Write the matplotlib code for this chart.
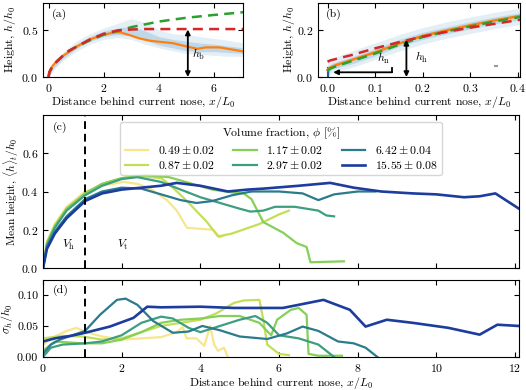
import matplotlib
matplotlib.use("Agg")
import matplotlib.pyplot as plt

plt.rcParams.update({
    "font.family": "serif",
    "font.serif": ["cmr10"],
    "mathtext.fontset": "cm",
    "axes.formatter.use_mathtext": True,
    "font.size": 8.5,
    "axes.unicode_minus": False,
    "xtick.direction": "in",
    "ytick.direction": "in",
    "xtick.top": True,
    "ytick.right": True,
})

# ---------------- panel (a) data ----------------
a_cloud_x = [0, 0.2, 0.5, 1.0, 1.5, 2.0, 2.5, 3.0, 3.5, 4.0, 4.5, 5.0, 5.5, 6.0, 6.5, 7.1]
a_cloud_hi = [0.03, 0.16, 0.26, 0.38, 0.46, 0.52, 0.57, 0.62, 0.58, 0.50, 0.46, 0.45, 0.43, 0.41, 0.39, 0.36]
a_cloud_lo = [0.0, 0.08, 0.17, 0.27, 0.35, 0.40, 0.42, 0.40, 0.35, 0.31, 0.28, 0.25, 0.24, 0.23, 0.22, 0.22]
a_core_hi = [0.02, 0.14, 0.24, 0.35, 0.43, 0.49, 0.52, 0.54, 0.49, 0.43, 0.40, 0.38, 0.36, 0.35, 0.33, 0.31]
a_core_lo = [0.0, 0.10, 0.19, 0.30, 0.38, 0.43, 0.45, 0.44, 0.39, 0.34, 0.31, 0.28, 0.27, 0.27, 0.26, 0.25]
a_mean_x = [0, 0.05, 0.15, 0.3, 0.5, 0.8, 1.0, 1.5, 2.0, 2.4, 2.6, 3.0, 3.3, 3.7, 4.0, 4.5, 5.0, 5.4, 5.7, 6.2, 6.7, 7.1]
a_mean_y = [0, 0.07, 0.12, 0.17, 0.22, 0.28, 0.32, 0.40, 0.45, 0.475, 0.475, 0.44, 0.41, 0.385, 0.375, 0.36, 0.325, 0.30, 0.315, 0.315, 0.29, 0.27]
a_model_x = [0, 0.03, 0.1, 0.25, 0.5, 0.75, 1.0, 1.5, 2.0, 2.5, 3.0, 3.5, 4.0, 5.0, 6.0, 7.1]
a_green_y = [0, 0.05, 0.09, 0.15, 0.22, 0.28, 0.32, 0.39, 0.45, 0.49, 0.53, 0.56, 0.59, 0.63, 0.66, 0.69]
a_red_y = [0, 0.05, 0.09, 0.15, 0.22, 0.28, 0.32, 0.40, 0.46, 0.495, 0.505, 0.51, 0.51, 0.51, 0.51, 0.51]

# ---------------- panel (b) data ----------------
b_cloud_x = [0, 0.01, 0.05, 0.1, 0.15, 0.2, 0.25, 0.3, 0.35, 0.41]
b_cloud_hi = [0.06, 0.08, 0.11, 0.145, 0.18, 0.21, 0.235, 0.255, 0.275, 0.295]
b_cloud_lo = [0.0, 0.02, 0.04, 0.075, 0.11, 0.14, 0.165, 0.185, 0.205, 0.225]
b_core_hi = [0.04, 0.06, 0.085, 0.12, 0.16, 0.19, 0.213, 0.235, 0.255, 0.275]
b_core_lo = [0.01, 0.035, 0.055, 0.09, 0.13, 0.16, 0.183, 0.205, 0.225, 0.245]
b_x = [0, 0.005, 0.02, 0.05, 0.1, 0.15, 0.2, 0.25, 0.3, 0.35, 0.41]
b_orange = [0.03, 0.04, 0.052, 0.072, 0.105, 0.142, 0.175, 0.198, 0.22, 0.24, 0.262]
b_green = [0.025, 0.035, 0.047, 0.067, 0.1, 0.137, 0.17, 0.194, 0.215, 0.236, 0.257]
b_red = [0.065, 0.07, 0.078, 0.093, 0.122, 0.148, 0.172, 0.192, 0.21, 0.226, 0.245]

# ---------------- panels (c), (d) data ----------------
labels = [r"$0.49 \pm 0.02$", r"$0.87 \pm 0.02$", r"$1.17 \pm 0.02$",
          r"$2.97 \pm 0.02$", r"$6.42 \pm 0.04$", r"$15.55 \pm 0.08$"]
colors = ["#f7e68b", "#c2df55", "#86cf58", "#3d9e80", "#2a7b8c", "#1c3c9e"]

c_x = [
    [0, 0.1, 0.3, 0.6, 1.07, 1.5, 2.04, 2.4, 2.73, 3.15, 3.4, 3.66, 4.0, 4.33, 4.5, 4.6],
    [0, 0.1, 0.3, 0.6, 1.07, 1.5, 2.0, 2.5, 3.0, 3.2, 3.66, 4.17, 4.45, 4.8, 5.5, 6.0, 6.25],
    [0, 0.1, 0.3, 0.6, 1.07, 1.5, 2.0, 2.6, 3.2, 3.8, 4.3, 4.8, 5.1, 5.3, 5.6, 6.1, 6.45, 6.7, 6.8, 7.65],
    [0, 0.1, 0.3, 0.6, 1.07, 1.5, 2.0, 2.4, 3.0, 3.5, 4.0, 4.5, 5.0, 5.27, 5.6, 5.9, 6.4, 7.0, 7.2, 7.4],
    [0, 0.1, 0.3, 0.6, 1.07, 1.5, 2.0, 2.5, 3.0, 3.5, 3.9, 4.3, 4.8, 5.3, 6.0, 6.6, 7.0, 7.4, 8.0, 8.45],
    [0, 0.1, 0.3, 0.6, 1.07, 1.5, 2.0, 2.5, 3.0, 3.4, 4.0, 4.7, 5.2, 5.6, 6.5, 7.3, 7.9, 8.6, 9.4, 10.0, 10.7, 11.1, 11.5, 11.8, 12.1],
]
c_y = [
    [0, 0.14, 0.23, 0.32, 0.40, 0.43, 0.45, 0.44, 0.415, 0.355, 0.30, 0.21, 0.205, 0.20, 0.16, 0.17],
    [0, 0.13, 0.22, 0.31, 0.39, 0.44, 0.47, 0.48, 0.47, 0.44, 0.35, 0.24, 0.165, 0.18, 0.23, 0.28, 0.30],
    [0, 0.13, 0.22, 0.31, 0.39, 0.44, 0.47, 0.485, 0.475, 0.44, 0.41, 0.395, 0.39, 0.36, 0.24, 0.185, 0.13, 0.11, 0.03, 0.035],
    [0, 0.12, 0.21, 0.30, 0.38, 0.43, 0.465, 0.475, 0.45, 0.41, 0.37, 0.34, 0.31, 0.295, 0.30, 0.32, 0.32, 0.30, 0.275, 0.27],
    [0, 0.11, 0.19, 0.27, 0.36, 0.40, 0.42, 0.415, 0.385, 0.355, 0.34, 0.35, 0.38, 0.40, 0.40, 0.39, 0.355, 0.385, 0.40, 0.40],
    [0, 0.10, 0.18, 0.26, 0.35, 0.39, 0.41, 0.42, 0.43, 0.445, 0.43, 0.40, 0.41, 0.415, 0.43, 0.445, 0.42, 0.40, 0.39, 0.385, 0.37, 0.375, 0.39, 0.35, 0.31],
]

d_x = [
    [0, 0.3, 0.6, 0.85, 1.1, 1.5, 2.0, 2.5, 3.0, 3.4, 3.55, 3.65, 3.9, 4.1, 4.25, 4.35, 4.45, 4.6, 4.7],
    [0, 0.5, 1.0, 1.5, 2.0, 2.5, 3.0, 3.5, 4.0, 4.4, 4.85, 5.1, 5.5, 5.6, 5.7, 6.0, 6.25],
    [0, 0.3, 1.0, 1.5, 2.0, 2.5, 3.0, 3.5, 4.0, 4.5, 5.0, 5.5, 5.8, 5.95, 6.3, 6.5, 6.7, 6.75, 7.0, 7.6],
    [0, 0.2, 0.5, 1.07, 1.5, 2.0, 2.5, 3.0, 3.3, 3.7, 4.0, 4.5, 5.0, 5.4, 5.7, 6.0, 6.5, 7.0, 7.4],
    [0, 0.2, 0.43, 1.07, 1.45, 1.88, 2.1, 2.4, 2.8, 3.3, 3.7, 4.05, 4.5, 5.0, 5.7, 6.2, 6.6, 7.0, 7.5, 7.9, 8.2, 8.5],
    [0, 0.3, 0.7, 1.07, 1.7, 2.3, 2.65, 3.0, 4.0, 4.85, 5.6, 6.1, 7.13, 7.8, 8.2, 8.74, 9.4, 10.3, 11.1, 11.55, 12.1],
]
d_y = [
    [0.02, 0.033, 0.042, 0.047, 0.04, 0.033, 0.028, 0.03, 0.032, 0.04, 0.048, 0.03, 0.03, 0.018, 0.05, 0.02, 0.01, 0.015, 0.0],
    [0.03, 0.034, 0.033, 0.028, 0.03, 0.04, 0.05, 0.055, 0.06, 0.07, 0.087, 0.091, 0.092, 0.06, 0.02, 0.005, 0.003],
    [0.01, 0.025, 0.022, 0.022, 0.028, 0.04, 0.055, 0.06, 0.062, 0.066, 0.066, 0.055, 0.035, 0.06, 0.076, 0.079, 0.068, 0.005, 0.002, 0.002],
    [0.0, 0.015, 0.02, 0.022, 0.025, 0.035, 0.055, 0.065, 0.062, 0.047, 0.04, 0.05, 0.06, 0.066, 0.055, 0.035, 0.03, 0.02, 0.0],
    [0.005, 0.02, 0.028, 0.042, 0.068, 0.092, 0.094, 0.084, 0.058, 0.039, 0.041, 0.05, 0.043, 0.033, 0.029, 0.038, 0.049, 0.042, 0.025, 0.022, 0.015, 0.0],
    [0.025, 0.03, 0.034, 0.039, 0.049, 0.063, 0.081, 0.08, 0.081, 0.079, 0.079, 0.079, 0.092, 0.076, 0.049, 0.06, 0.055, 0.047, 0.036, 0.052, 0.05],
]

# ---------------- figure ----------------
fig = plt.figure(figsize=(5.26, 3.90), dpi=100)
W, H = 526, 390
def rect(l, t, r, b):
    return [l / W, 1 - b / H, (r - l) / W, (b - t) / H]

ax_a = fig.add_axes(rect(43, 3, 243, 77))
ax_b = fig.add_axes(rect(318, 3, 520, 77))
ax_c = fig.add_axes(rect(43, 115, 519, 268))
ax_d = fig.add_axes(rect(43, 280, 519, 357))

cloud_col = "#1f77b4"
xlab = r"Distance behind current nose, $x/L_0$"
dash = (0, (4, 2.5))

# (a)
ax_a.fill_between(a_cloud_x, a_cloud_lo, a_cloud_hi, color=cloud_col, alpha=0.12, lw=0)
ax_a.fill_between(a_cloud_x, a_core_lo, a_core_hi, color=cloud_col, alpha=0.18, lw=0)
ax_a.plot(a_mean_x, a_mean_y, color="#ff7f0e", lw=1.6)
ax_a.plot(a_model_x, a_green_y, color="#2ca02c", lw=1.8, ls=dash)
ax_a.plot(a_model_x, a_red_y, color="#d62728", lw=1.8, ls=dash)
ax_a.annotate("", xy=(5.05, 0.0), xytext=(5.05, 0.505),
              arrowprops=dict(arrowstyle="<|-|>", color="k", lw=1.3, shrinkA=0, shrinkB=0,
                              mutation_scale=7))
ax_a.text(5.2, 0.2, r"$h_\mathrm{b}$")
ax_a.set_xlim(-0.2, 7.05)
ax_a.set_ylim(0, 0.787)
ax_a.set_xticks([0, 2, 4, 6])
ax_a.set_yticks([0.0, 0.5])
ax_a.set_ylabel(r"Height, $h/h_0$")
ax_a.yaxis.set_label_coords(-0.125, 0.5)
ax_a.set_xlabel(xlab)
ax_a.xaxis.set_label_coords(0.5, -0.235)
ax_a.text(0.045, 0.92, "(a)", transform=ax_a.transAxes, va="top")

# (b)
ax_b.fill_between(b_cloud_x, b_cloud_lo, b_cloud_hi, color=cloud_col, alpha=0.12, lw=0)
ax_b.fill_between(b_cloud_x, b_core_lo, b_core_hi, color=cloud_col, alpha=0.18, lw=0)
ax_b.plot([0, 0], [0, 0.04], color="#1f5fa0", lw=1.5)
ax_b.plot(b_x, b_orange, color="#ff7f0e", lw=1.8)
ax_b.plot(b_x, b_green, color="#2ca02c", lw=1.8, ls=dash)
ax_b.plot(b_x, b_red, color="#d62728", lw=1.8, ls=dash)
ax_b.annotate("", xy=(0.166, 0.0), xytext=(0.166, 0.158),
              arrowprops=dict(arrowstyle="<|-|>", color="k", lw=1.3, shrinkA=0, shrinkB=0,
                              mutation_scale=7))
ax_b.text(0.185, 0.07, r"$h_\mathrm{h}$")
ax_b.plot([0.135, 0.135], [0.02, 0.037], color="k", lw=1.3)
ax_b.annotate("", xy=(0.012, 0.02), xytext=(0.1357, 0.02),
              arrowprops=dict(arrowstyle="-|>", color="k", lw=1.3, shrinkA=0, shrinkB=0,
                              mutation_scale=7))
ax_b.text(0.105, 0.065, r"$h_\mathrm{n}$")
ax_b.plot([0.354], [0.046], marker="_", color="#999999", ms=3, mew=1.5)
ax_b.set_xlim(-0.02, 0.405)
ax_b.set_ylim(0, 0.315)
ax_b.set_xticks([0.0, 0.1, 0.2, 0.3, 0.4])
ax_b.set_yticks([0.0, 0.2])
ax_b.set_ylabel(r"Height, $h/h_0$")
ax_b.yaxis.set_label_coords(-0.105, 0.5)
ax_b.set_xlabel(xlab)
ax_b.xaxis.set_label_coords(0.5, -0.235)
ax_b.text(0.04, 0.92, "(b)", transform=ax_b.transAxes, va="top")

# (c)
for xs, ys, col, lab, in zip(c_x, c_y, colors, labels):
    lw = 1.9 if col == colors[-1] else 1.6
    ax_c.plot(xs, ys, color=col, lw=lw, label=lab)
ax_c.axvline(1.07, color="k", lw=1.4, ls=dash)
ax_c.text(0.64, 0.12, r"$V_\mathrm{h}$", ha="center", va="center")
ax_c.text(2.04, 0.12, r"$V_\mathrm{t}$", ha="center", va="center")
ax_c.set_xlim(0, 12.1)
ax_c.set_ylim(0, 0.8)
ax_c.set_xticks(range(0, 13, 2))
ax_c.set_xticklabels([])
ax_c.set_yticks([0.0, 0.2, 0.4, 0.6])
ax_c.set_ylabel(r"Mean height, $\langle h\rangle_t/h_0$", fontsize=8.2)
ax_c.yaxis.set_label_coords(-0.046, 0.5)
ax_c.text(0.02, 0.92, "(c)", transform=ax_c.transAxes, va="center")
ax_c.legend(ncol=3, loc="upper center", bbox_to_anchor=(0.5, 0.955), borderaxespad=0,
            title=r"Volume fraction, $\phi$ [%]", fontsize=8.5, title_fontsize=8.5,
            handlelength=2.0, columnspacing=1.6, borderpad=0.35, labelspacing=0.25)

# (d)
for xs, ys, col in zip(d_x, d_y, colors):
    lw = 1.9 if col == colors[-1] else 1.6
    ax_d.plot(xs, ys, color=col, lw=lw)
ax_d.axvline(1.07, color="k", lw=1.4, ls=dash)
ax_d.set_xlim(0, 12.1)
ax_d.set_ylim(0, 0.124)
ax_d.set_xticks(range(0, 13, 2))
ax_d.set_yticks([0.0, 0.05, 0.10])
ax_d.set_yticklabels(["0.00", "0.05", "0.10"])
ax_d.set_ylabel(r"$\sigma_h/h_0$")
ax_d.yaxis.set_label_coords(-0.058, 0.5)
ax_d.set_xlabel(xlab)
ax_d.xaxis.set_label_coords(0.5, -0.235)
ax_d.text(0.02, 0.86, "(d)", transform=ax_d.transAxes, va="center")

fig.savefig("out.png", dpi=100)
